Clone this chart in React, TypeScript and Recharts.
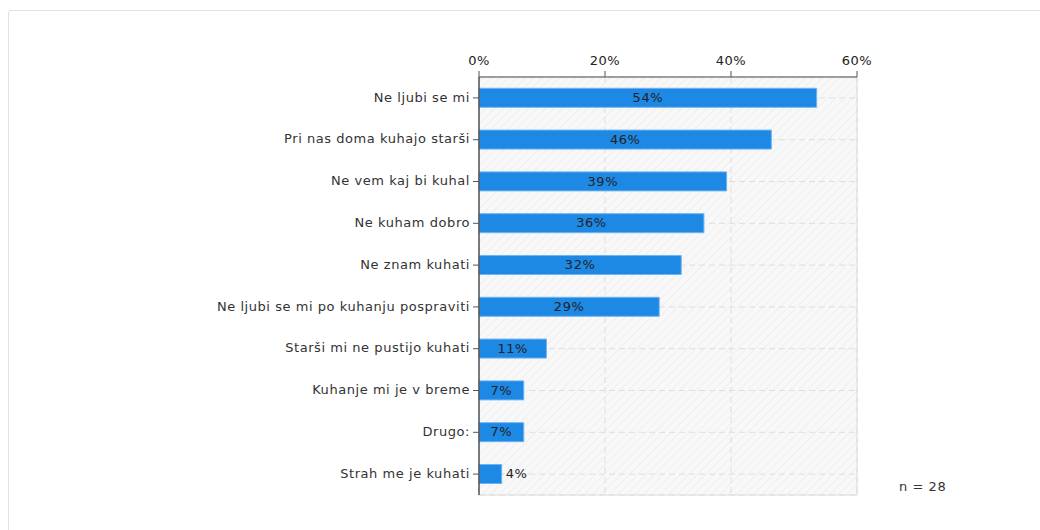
import React from "react";
import {
  BarChart,
  Bar,
  XAxis,
  YAxis,
  CartesianGrid,
  LabelList,
  ReferenceArea,
} from "recharts";

const categories = [
  "Ne ljubi se mi",
  "Pri nas doma kuhajo starši",
  "Ne vem kaj bi kuhal",
  "Ne kuham dobro",
  "Ne znam kuhati",
  "Ne ljubi se mi po kuhanju pospraviti",
  "Starši mi ne pustijo kuhati",
  "Kuhanje mi je v breme",
  "Drugo:",
  "Strah me je kuhati",
];

const shares = [53.6, 46.4, 39.3, 35.7, 32.1, 28.6, 10.7, 7.1, 7.1, 3.6];

const xTicks = [0, 20, 40, 60];

const sampleSize = 28;

const data = categories.map((name, i) => ({ name, value: shares[i] }));

const font = "'DejaVu Sans', Verdana, sans-serif";
const fs = 13;

const BarLabel = (props: any) => {
  const { x, y, width, height, value } = props;
  const text = `${Math.round(value)}%`;
  const inside = width > 40;
  return (
    <text
      x={inside ? x + width / 2 : x + width + 4}
      y={y + height / 2}
      dy="0.33em"
      textAnchor={inside ? "middle" : "start"}
      fontSize={fs}
      fontFamily={font}
      fill="#222"
    >
      {text}
    </text>
  );
};

const App = () => {
  return (
    <div
      style={{
        position: "absolute",
        left: 0,
        top: 0,
        width: 1040,
        height: 530,
        overflow: "hidden",
        background: "#fff",
        letterSpacing: "0.55px",
      }}
    >
      <div
        style={{
          position: "absolute",
          left: 8,
          top: 10,
          width: 1100,
          height: 600,
          border: "1px solid #e2e2e2",
          borderRadius: 3,
        }}
      />
      <BarChart
        width={1040}
        height={530}
        data={data}
        layout="vertical"
        margin={{ top: 47, right: 183, bottom: 35, left: 0 }}
        barCategoryGap="27%"
        style={{ position: "absolute", left: 0, top: 0, fontFamily: font }}
      >
        <defs>
          <pattern id="hatch" width="6" height="6" patternUnits="userSpaceOnUse" patternTransform="rotate(45)">
            <rect width="6" height="6" fill="#f8f8f8" />
            <line x1="0" y1="0" x2="0" y2="6" stroke="#ececec" strokeWidth="1.5" />
          </pattern>
        </defs>
        <CartesianGrid
          fill="url(#hatch)"
          fillOpacity={1}
          stroke="#dedede"
          strokeDasharray="6 4"
        />
        <ReferenceArea x1={0} x2={60} fill="none" stroke="#dcdcdc" strokeWidth={1} ifOverflow="visible" />
        <XAxis
          type="number"
          orientation="top"
          domain={[0, 60]}
          ticks={xTicks}
          tickFormatter={(v) => `${v}%`}
          height={30}
          tickSize={6}
          tickMargin={6}
          axisLine={{ stroke: "#555" }}
          tickLine={{ stroke: "#555" }}
          tick={{ fill: "#222", fontSize: fs, fontFamily: font }}
          interval={0}
        />
        <YAxis
          type="category"
          dataKey="name"
          width={479}
          tickSize={6}
          tickMargin={3}
          axisLine={{ stroke: "#555", strokeWidth: 1.5 }}
          tickLine={{ stroke: "#555" }}
          tick={{ fill: "#333", fontSize: fs, fontFamily: font, dy: -1 }}
          interval={0}
        />
        <Bar
          dataKey="value"
          fill="#1e88e5"
          stroke="#6db3f2"
          strokeWidth={1}
          isAnimationActive={false}
        >
          <LabelList dataKey="value" content={<BarLabel />} />
        </Bar>
      </BarChart>
      <div
        style={{
          position: "absolute",
          left: 899,
          top: 479,
          fontSize: fs,
          fontFamily: font,
          color: "#333",
        }}
      >
        n = {sampleSize}
      </div>
    </div>
  );
};

export default App;
